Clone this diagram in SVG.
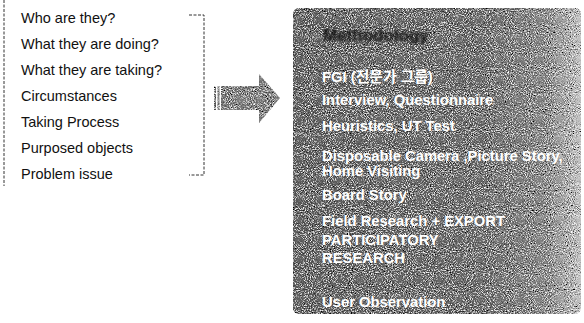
<svg xmlns="http://www.w3.org/2000/svg" width="584" height="323" viewBox="0 0 584 323">
<style>
.q{font-family:"Liberation Sans",Arial,sans-serif;font-size:14.5px;fill:#111}
.m{font-family:"Liberation Sans","Noto Sans CJK KR",Arial,sans-serif;font-size:14.8px;font-weight:bold;fill:#fff}
.t{font-family:"Liberation Sans",Arial,sans-serif;font-size:17px;font-weight:bold;fill:#111}
.dash{fill:none;stroke:#333;stroke-width:1;stroke-dasharray:3 1.5}
</style>
<defs>
<linearGradient id="pg" x1="0" y1="0" x2="1" y2="0">
<stop offset="0" stop-color="#626262"/>
<stop offset="0.65" stop-color="#6c6c6c"/>
<stop offset="0.88" stop-color="#888"/>
<stop offset="1" stop-color="#c4c4c4"/>
</linearGradient>
<filter id="grain" x="0" y="0" width="100%" height="100%">
<feTurbulence type="fractalNoise" baseFrequency="0.95" numOctaves="2" seed="7" result="n"/>
<feColorMatrix in="n" type="matrix" values="0 0 0 0 0  0 0 0 0 0  0 0 0 0 0  -3.6 0 0 0 1.75" result="dk"/>
<feComposite in="dk" in2="SourceGraphic" operator="in" result="d"/>
<feColorMatrix in="n" type="matrix" values="0 0 0 0 1  0 0 0 0 1  0 0 0 0 1  3.6 0 0 0 -1.85" result="lt"/>
<feComposite in="lt" in2="SourceGraphic" operator="in" result="l"/>
<feMerge><feMergeNode in="SourceGraphic"/><feMergeNode in="d"/><feMergeNode in="l"/></feMerge>
</filter>
<filter id="soft"><feGaussianBlur stdDeviation="0.9"/></filter>
</defs>

<g id="questions">
<line class="dash" x1="4" y1="0" x2="4" y2="186"/>
<text class="q" x="21" y="23">Who are they?</text>
<text class="q" x="21" y="49">What they are doing?</text>
<text class="q" x="21" y="75">What they are taking?</text>
<text class="q" x="21" y="101">Circumstances</text>
<text class="q" x="21" y="127">Taking Process</text>
<text class="q" x="21" y="153">Purposed objects</text>
<text class="q" x="21" y="179">Problem issue</text>
</g>

<g id="connectors">
<path class="dash" d="M189 15 H204 V175 H189"/>
<g filter="url(#grain)">
<path d="M223 86 H259 V74 L280 98 L259 123 V110 H223 Z" fill="#808080"/>
<rect x="214" y="86" width="2" height="24" fill="#777"/>
<rect x="217.5" y="86" width="2" height="24" fill="#888"/>
<rect x="221" y="86" width="2" height="24" fill="#777"/>
</g>
</g>

<g id="methodology">
<rect x="293" y="8" width="288" height="306" rx="6" fill="url(#pg)" filter="url(#grain)"/>
<text class="t" x="323" y="41" filter="url(#soft)">Methodology</text>
<text class="m" x="322" y="82">FGI (전문가 그룹)</text>
<text class="m" x="322" y="105">Interview, Questionnaire</text>
<text class="m" x="322" y="131">Heuristics, UT Test</text>
<text class="m" x="322" y="161">Disposable Camera ,Picture Story,</text>
<text class="m" x="322" y="176">Home Visiting</text>
<text class="m" x="322" y="200">Board Story</text>
<text class="m" x="322" y="226">Field Research + EXPORT</text>
<text class="m" x="322" y="245">PARTICIPATORY</text>
<text class="m" x="322" y="263">RESEARCH</text>
<text class="m" x="322" y="307">User Observation</text>
</g>
</svg>
